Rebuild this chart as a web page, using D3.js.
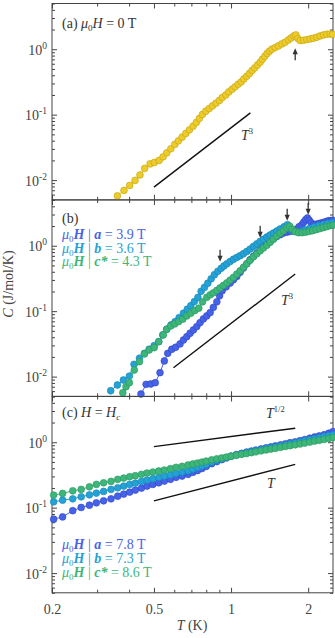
<!DOCTYPE html>
<html lang="en">
<head>
<meta charset="UTF-8">
<title>C vs T</title>
<script src="https://d3js.org/d3.v7.min.js"></script>
<style>
  body { margin: 0; background: #fff; }
  text { font-family: 'Liberation Serif', 'Times New Roman', serif; fill: #3a3a3a; }
</style>
</head>
<body>
<script>
// ---- panel (a): mu0H = 0 T ----
const Ta0 = [0.360,0.382,0.402,0.422,0.441,0.460,0.483,0.502,0.524,0.543,0.561,0.582,0.603,0.623,0.644,0.666,0.688,0.711,0.732,0.752,0.773,0.797,0.821,0.846,0.874,0.901,0.925,0.954,0.980,1.010,1.037,1.066,1.095,1.122,1.152,1.180,1.208,1.238,1.268,1.299,1.326,1.355,1.383,1.412,1.443,1.486,1.531,1.579,1.626,1.675,1.716,1.758,1.791,1.824,1.861,1.917,1.977,2.036,2.098,2.162,2.228,2.296,2.366,2.438,2.49];
const Ca0 = [0.00575,0.00696,0.0083,0.0099,0.0120,0.0151,0.0177,0.0186,0.0200,0.0227,0.0261,0.0301,0.0351,0.0398,0.0453,0.0516,0.0586,0.0668,0.076,0.0875,0.1007,0.113,0.124,0.136,0.150,0.165,0.183,0.200,0.223,0.245,0.266,0.292,0.317,0.352,0.387,0.426,0.473,0.519,0.575,0.634,0.703,0.782,0.860,0.932,1.0,1.062,1.123,1.205,1.279,1.387,1.488,1.596,1.653,1.456,1.358,1.372,1.406,1.436,1.472,1.525,1.596,1.653,1.694,1.713,1.69];

// ---- panel (b): fields near the transition ----
const Tb_a = [0.445,0.466,0.486,0.506,0.528,0.549,0.566,0.587,0.608,0.632,0.652,0.672,0.692,0.713,0.735,0.757,0.780,0.804,0.829,0.853,0.880,0.902,0.923,0.957,0.992,1.022,1.053,1.085,1.118,1.152,1.187,1.223,1.261,1.299,1.338,1.380,1.421,1.464,1.509,1.555,1.602,1.652,1.702,1.753,1.806,1.844,1.890,1.921,1.955,1.988,2.018,2.054,2.098,2.150,2.198,2.248,2.299,2.352,2.405,2.460,2.50];
const Cb_a = [0.00542,0.00762,0.00771,0.00807,0.01148,0.01734,0.0227,0.0262,0.0281,0.0316,0.0363,0.0408,0.0460,0.0517,0.0581,0.0669,0.0762,0.0847,0.0952,0.1143,0.1388,0.1715,0.2046,0.2356,0.2684,0.3015,0.3388,0.3927,0.4556,0.530,0.6104,0.6907,0.773,0.868,0.976,1.073,1.164,1.280,1.388,1.474,1.565,1.610,1.656,1.727,1.802,1.954,2.097,2.290,2.500,2.656,2.458,2.250,2.097,2.134,2.173,2.227,2.275,2.348,2.415,2.432,2.440];
const Tb_b = [0.339,0.360,0.380,0.401,0.418,0.439,0.459,0.479,0.501,0.522,0.541,0.561,0.583,0.605,0.627,0.652,0.675,0.696,0.719,0.742,0.764,0.787,0.811,0.836,0.861,0.888,0.915,0.938,0.963,0.992,1.022,1.053,1.085,1.118,1.152,1.187,1.223,1.261,1.299,1.338,1.380,1.421,1.464,1.509,1.555,1.612,1.661,1.702,1.753,1.811,1.878,1.947,2.028,2.110,2.198,2.290,2.384,2.482];
const Cb_b = [0.00608,0.00744,0.00887,0.0102,0.0154,0.0191,0.0227,0.0262,0.0297,0.0342,0.0434,0.0530,0.0617,0.0693,0.0798,0.0932,0.107,0.121,0.140,0.162,0.201,0.231,0.267,0.312,0.360,0.407,0.452,0.490,0.530,0.575,0.621,0.662,0.703,0.754,0.818,0.890,0.976,1.066,1.164,1.258,1.359,1.458,1.565,1.680,1.802,1.954,2.097,1.854,1.667,1.638,1.667,1.746,1.841,1.933,2.024,2.112,2.188,2.249];
const Tb_c = [0.378,0.389,0.401,0.419,0.439,0.459,0.479,0.501,0.522,0.544,0.561,0.582,0.603,0.625,0.648,0.672,0.696,0.722,0.748,0.774,0.804,0.829,0.853,0.880,0.906,0.934,0.963,0.992,1.022,1.053,1.085,1.118,1.152,1.187,1.223,1.261,1.299,1.338,1.380,1.421,1.464,1.509,1.555,1.602,1.652,1.694,1.732,1.780,1.836,1.895,1.955,2.018,2.082,2.150,2.218,2.290,2.362,2.438,2.50];
const Cb_c = [0.00567,0.0070,0.00807,0.01262,0.0169,0.0222,0.0255,0.0277,0.0342,0.0434,0.0530,0.0595,0.0639,0.0693,0.0754,0.0847,0.0932,0.1021,0.111,0.1388,0.1627,0.1777,0.1906,0.2083,0.2274,0.2484,0.2713,0.2983,0.3293,0.3686,0.4141,0.4686,0.530,0.5998,0.6785,0.754,0.838,0.925,1.018,1.131,1.258,1.398,1.554,1.697,1.866,1.989,1.789,1.638,1.581,1.581,1.610,1.656,1.697,1.758,1.821,1.887,1.954,2.024,2.061];

// ---- panel (c): H = Hc, shared temperatures ----
const Tc = [0.203,0.22,0.241,0.26,0.28,0.298,0.318,0.34,0.361,0.381,0.402,0.423,0.447,0.47,0.495,0.522,0.549,0.58,0.61,0.644,0.68,0.71,0.74,0.77,0.80,0.84,0.88,0.92,0.96,1.00,1.05,1.10,1.15,1.20,1.25,1.31,1.37,1.43,1.49,1.56,1.63,1.70,1.78,1.86,1.94,2.03,2.12,2.21,2.31,2.41,2.50];
const Cc_a = [0.0666,0.0723,0.0899,0.1007,0.1092,0.1185,0.1272,0.1365,0.1501,0.1611,0.1729,0.1855,0.1991,0.2137,0.2269,0.2401,0.2549,0.2707,0.2905,0.3041,0.3231,0.347,0.369,0.396,0.427,0.470,0.506,0.541,0.576,0.612,0.648,0.678,0.708,0.733,0.759,0.789,0.821,0.850,0.881,0.912,0.945,0.982,1.014,1.054,1.100,1.152,1.202,1.249,1.303,1.374,1.454];
const Cc_b = [0.1227,0.1303,0.1365,0.1464,0.1571,0.1669,0.1772,0.1902,0.2012,0.2137,0.2269,0.2375,0.2522,0.2641,0.2765,0.2905,0.3041,0.3185,0.3346,0.3505,0.3669,0.390,0.412,0.436,0.461,0.497,0.528,0.556,0.585,0.610,0.639,0.666,0.695,0.718,0.741,0.770,0.798,0.824,0.850,0.881,0.912,0.942,0.979,1.014,1.054,1.096,1.136,1.176,1.223,1.262,1.294];
const Cc_c = [0.1555,0.1651,0.1810,0.1902,0.2085,0.2269,0.2401,0.2522,0.2707,0.2835,0.2968,0.3075,0.3231,0.3383,0.3505,0.3631,0.3761,0.3937,0.4137,0.4285,0.4486,0.465,0.481,0.497,0.515,0.539,0.558,0.574,0.593,0.612,0.634,0.655,0.671,0.693,0.713,0.738,0.762,0.786,0.806,0.835,0.862,0.887,0.912,0.942,0.972,1.007,1.040,1.069,1.104,1.139,1.185];

// guide lines: [T0, C0, T1, C1]
const guideA = [[0.5, 0.0078, 1.19, 0.1065]];
const guideB = [[0.596, 0.01368, 1.78, 0.369]];
const guideC = [[0.5, 0.856, 1.78, 1.639], [0.5, 0.1272, 1.78, 0.46]];

// arrows: T position and C at the tip
const arrowA = [[1.78, 1.035]];
const arrowB = [[0.906, 0.569], [1.299, 1.326], [1.656, 2.415], [2.0, 2.98]];

const xTickMajor = [0.2, 0.5, 1, 2];
const xTickMinor = [0.3, 0.4, 0.6, 0.7, 0.8, 0.9];
const yTickMajor = [0.01, 0.1, 1];
const yTickMinor = [0.005,0.006,0.007,0.008,0.009,0.02,0.03,0.04,0.05,0.06,0.07,0.08,0.09,0.2,0.3,0.4,0.5,0.6,0.7,0.8,0.9,2,3,4,5];

const colA = '#4662e8', colB = '#24a2d6', colC = '#3db67a', colY = '#eccb2a';
const strA = '#2f47c4', strB = '#1584b4', strC = '#2a955f', strY = '#c2a312';

const width = 335, height = 638;
const left = 52, right = 333;
const tops = [3.5, 200, 396.5];
const ph = 196.3;

const svg = d3.select("body").append("svg").attr("width", width).attr("height", height);

const x = d3.scaleLog().domain([0.2, 2.5]).range([left, right]);

function panel(i) {
    const top = tops[i], bot = top + ph;
    const y = d3.scaleLog().domain([0.005, 5]).range([bot, top]);
    const g = svg.append("g");

    const axes = [
        [d3.axisBottom(x), 0, bot], [d3.axisTop(x), 0, top]
    ];
    axes.forEach(([ax, tx, ty]) => {
        g.append("g").attr("transform", `translate(${tx},${ty})`)
            .call(ax.tickValues(xTickMajor).tickSize(-5).tickFormat(""));
        g.append("g").attr("transform", `translate(${tx},${ty})`)
            .call(ax.tickValues(xTickMinor).tickSize(-3).tickFormat(""));
    });
    [[d3.axisLeft(y), left], [d3.axisRight(y), right]].forEach(([ax, tx]) => {
        g.append("g").attr("transform", `translate(${tx},0)`)
            .call(ax.tickValues(yTickMajor).tickSize(-5).tickFormat(""));
        g.append("g").attr("transform", `translate(${tx},0)`)
            .call(ax.tickValues(yTickMinor).tickSize(-3).tickFormat(""));
    });
    g.selectAll(".domain").remove();
    g.selectAll(".tick line").attr("stroke", "#444");

    g.append("rect").attr("x", left).attr("y", top).attr("width", right - left).attr("height", ph)
        .attr("fill", "none").attr("stroke", "#444").attr("stroke-width", 1);

    // y tick labels 10^n
    yTickMajor.forEach(v => {
        const t = g.append("text").attr("x", 47).attr("y", y(v) + 5.5)
            .attr("text-anchor", "end").style("font-size", "14px").style("fill", "#444");
        t.append("tspan").text("10");
        t.append("tspan").attr("dy", -6).style("font-size", "9.5px").text(Math.round(Math.log10(v)));
    });
    return {g, y, top, bot};
}

function series(p, T, C, fill, stroke) {
    const pts = T.map((t, i) => [t, C[i]]);
    p.g.append("path").datum(pts)
        .attr("d", d3.line().x(d => x(d[0])).y(d => p.y(d[1])))
        .attr("fill", "none").attr("stroke", fill).attr("stroke-width", 1);
    p.g.selectAll(null).data(pts).enter().append("circle")
        .attr("cx", d => x(d[0])).attr("cy", d => p.y(d[1])).attr("r", 3.4)
        .attr("fill", fill).attr("stroke", stroke).attr("stroke-width", 0.6);
}

function guides(p, list) {
    list.forEach(l => {
        p.g.append("line").attr("x1", x(l[0])).attr("y1", p.y(l[1]))
            .attr("x2", x(l[2])).attr("y2", p.y(l[3]))
            .attr("stroke", "#111").attr("stroke-width", 1.4);
    });
}

function arrows(p, list, dir) {
    // dir = -1 pointing up, +1 pointing down
    list.forEach(a => {
        const ax = x(a[0]), ay = p.y(a[1]);
        p.g.append("line").attr("x1", ax).attr("x2", ax)
            .attr("y1", ay - dir * 12).attr("y2", ay - dir * 4)
            .attr("stroke", "#333").attr("stroke-width", 1.3);
        p.g.append("path")
            .attr("d", `M${ax},${ay} L${ax - 2.6},${ay - dir * 6} L${ax + 2.6},${ay - dir * 6} Z`)
            .attr("fill", "#333");
    });
}

function powerLabel(g, px, py, base, sup) {
    const t = g.append("text").attr("x", px).attr("y", py).style("font-size", "14px").style("fill", "#333");
    t.append("tspan").style("font-style", "italic").text(base);
    if (sup) t.append("tspan").attr("dy", -6).style("font-size", "8.5px").text(sup);
}

function fieldLegend(g, px, py, axisName, val, color) {
    const t = g.append("text").attr("x", px).attr("y", py).style("font-size", "14px").style("fill", color);
    t.append("tspan").style("font-style", "italic").text("\u03bc");
    t.append("tspan").attr("dy", 3).style("font-size", "9px").text("0");
    t.append("tspan").attr("dy", -3).style("font-style", "italic").style("font-weight", "bold").text("H");
    t.append("tspan").text(" | ");
    t.append("tspan").style("font-style", "italic").style("font-weight", "bold").text(axisName);
    t.append("tspan").text(" = " + val + " T");
    t.style("fill", color);
}

// ---- panel a ----
const pa = panel(0);
guides(pa, guideA);
series(pa, Ta0, Ca0, colY, strY);
arrows(pa, arrowA, -1);
powerLabel(pa.g, 241, 140, "T", "3");
{
    const t = pa.g.append("text").attr("x", 62).attr("y", 27.5).style("font-size", "14px").style("fill", "#333");
    t.append("tspan").text("(a) ");
    t.append("tspan").style("font-style", "italic").text("\u03bc");
    t.append("tspan").attr("dy", 3).style("font-size", "9px").text("0");
    t.append("tspan").attr("dy", -3).style("font-style", "italic").text("H");
    t.append("tspan").text(" = 0 T");
}

// ---- panel b ----
const pb = panel(1);
guides(pb, guideB);
series(pb, Tb_a, Cb_a, colA, strA);
series(pb, Tb_b, Cb_b, colB, strB);
series(pb, Tb_c, Cb_c, colC, strC);
arrows(pb, arrowB, 1);
powerLabel(pb.g, 281, 305, "T", "3");
pb.g.append("text").attr("x", 62).attr("y", 223).style("font-size", "14px").style("fill", "#333").text("(b)");
fieldLegend(pb.g, 62, 239, "a", "3.9", colA);
fieldLegend(pb.g, 62, 252.5, "b", "3.6", colB);
fieldLegend(pb.g, 62, 266, "c*", "4.3", colC);

// ---- panel c ----
const pc = panel(2);
guides(pc, guideC);
series(pc, Tc, Cc_a, colA, strA);
series(pc, Tc, Cc_b, colB, strB);
series(pc, Tc, Cc_c, colC, strC);
powerLabel(pc.g, 266, 418, "T", "1/2");
powerLabel(pc.g, 267, 488, "T", null);
{
    const t = pc.g.append("text").attr("x", 62).attr("y", 417).style("font-size", "14px").style("fill", "#333");
    t.append("tspan").text("(c) ");
    t.append("tspan").style("font-style", "italic").text("H");
    t.append("tspan").text(" = ");
    t.append("tspan").style("font-style", "italic").text("H");
    t.append("tspan").attr("dy", 3).style("font-size", "9px").style("font-style", "italic").text("c");
}
fieldLegend(pc.g, 62, 548.5, "a", "7.8", colA);
fieldLegend(pc.g, 62, 562.5, "b", "7.3", colB);
fieldLegend(pc.g, 62, 576.5, "c*", "8.6", colC);

// x tick labels on the bottom panel
svg.append("g").attr("transform", `translate(0,${pc.bot})`)
    .call(d3.axisBottom(x).tickValues(xTickMajor).tickSize(0).tickPadding(11).tickFormat(d3.format("")))
    .call(g => g.select(".domain").remove())
    .selectAll("text").style("font-size", "14px").style("fill", "#444")
    .style("font-family", "'Liberation Serif', serif");

// axis titles
{
    const t = svg.append("text").attr("x", 192).attr("y", 630).attr("text-anchor", "middle")
        .style("font-size", "14px").style("fill", "#444");
    t.append("tspan").style("font-style", "italic").text("T");
    t.append("tspan").text(" (K)");
    const c = svg.append("text").attr("transform", "translate(13,284) rotate(-90)").attr("text-anchor", "middle")
        .style("font-size", "14px").style("fill", "#444");
    c.append("tspan").style("font-style", "italic").text("C");
    c.append("tspan").text(" (J/mol/K)");
}
</script>
</body>
</html>
